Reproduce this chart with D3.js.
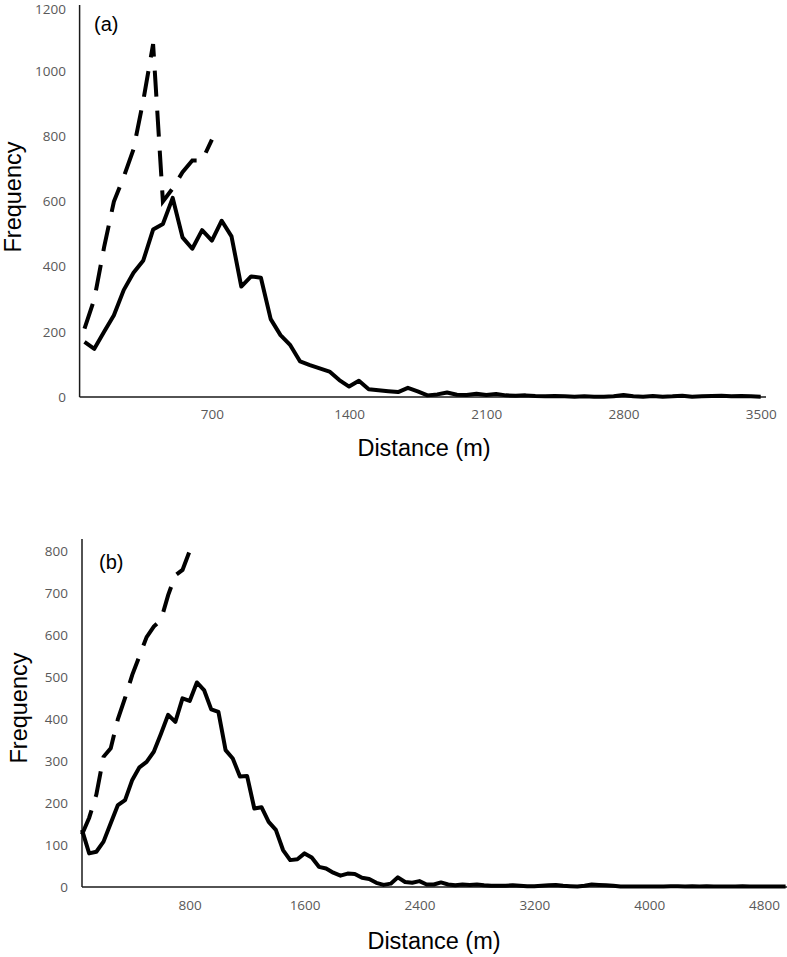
<!DOCTYPE html>
<html>
<head>
<meta charset="utf-8">
<script src="https://cdn.jsdelivr.net/npm/d3@7"></script>
<style>
  body { margin: 0; background: #fff; }
  svg { display: block; }
</style>
</head>
<body>
<div id="chart"></div>
<script>
// panel (a): 50 m bins, 50..3500
var binsA = d3.range(50, 3501, 50);
var solidA = [169, 148, 200, 251, 328, 381, 419, 514, 531, 611,
  490, 455, 512, 480, 541, 493, 339, 370, 366, 239,
  190, 159, 109, 98, 88, 78, 52, 32, 50, 24,
  21, 18, 15, 28, 17, 5, 8, 14, 7, 6,
  10, 6, 9, 5, 4, 5, 3, 2, 3, 2,
  1, 2, 1, 1, 2, 6, 2, 1, 3, 1,
  2, 4, 1, 2, 3, 4, 2, 3, 2, 1];
var dashedA = [210, 300, 460, 600, 675, 760, 910, 1083, 600, 640, 690, 726, 726, 790];
var xTicksA = [700, 1400, 2100, 2800, 3500];
var yTicksA = [0, 200, 400, 600, 800, 1000, 1200];

// panel (b): 50 m bins, 50..4950
var binsB = d3.range(50, 4951, 50);
var solidB = [136, 80, 84, 108, 152, 195, 207, 255, 285, 298,
  322, 365, 410, 393, 449, 443, 487, 469, 423, 417,
  326, 306, 263, 264, 187, 190, 155, 136, 88, 64,
  66, 80, 70, 48, 44, 34, 27, 32, 31, 22,
  19, 10, 5, 8, 23, 12, 10, 14, 6, 6,
  11, 6, 4, 6, 5, 6, 4, 3, 3, 3,
  4, 3, 2, 2, 3, 4, 5, 3, 2, 1,
  3, 6, 5, 4, 3, 1, 1, 1, 1, 1,
  1, 1, 2, 2, 1, 2, 1, 2, 1, 1,
  1, 1, 2, 1, 1, 1, 1, 1, 1];
var dashedB = [125, 165, 220, 310, 330, 400, 450, 505, 550, 595, 620, 636, 695, 742, 755, 800];
var xTicksB = [800, 1600, 2400, 3200, 4000, 4800];
var yTicksB = [0, 100, 200, 300, 400, 500, 600, 700, 800];

var width = 787,
  height = 957;

var svg = d3.select('#chart').append('svg')
  .attr('width', width)
  .attr('height', height);

function drawPanel(opts){
  var x = opts.x, y = opts.y;
  var g = svg.append('g');

  // tick labels only, Excel style
  var yAxis = d3.axisLeft(y).tickValues(opts.yTicks).tickSize(0).tickPadding(0)
    .tickFormat(d3.format('d'));
  var yG = g.append('g')
    .attr('transform', 'translate(' + opts.yLabelX + ',0)')
    .call(yAxis)
    .call(function(s){ s.select('.domain').remove(); });

  var xAxis = d3.axisBottom(x).tickValues(opts.xTicks).tickSize(0).tickPadding(0)
    .tickFormat(d3.format('d'));
  g.append('g')
    .attr('transform', 'translate(0,' + opts.xLabelY + ')')
    .call(xAxis)
    .call(function(s){ s.select('.domain').remove(); });

  g.selectAll('.tick text')
    .attr('fill', '#595959')
    .style('font-family', '"Open Sans", sans-serif')
    .style('font-size', '13.5px');

  // keep the top y label inside the page
  yG.selectAll('.tick text').filter(function(d){ return y(d) < 10; })
    .attr('dy', '0.55em');

  // axis lines
  g.append('line')
    .attr('x1', x.range()[0]).attr('x2', x.range()[0])
    .attr('y1', opts.axisTop).attr('y2', y(0))
    .attr('stroke', '#1a1a1a').attr('stroke-width', 1.5);
  g.append('line')
    .attr('x1', x.range()[0]).attr('x2', opts.axisRight)
    .attr('y1', y(0)).attr('y2', y(0))
    .attr('stroke', '#1a1a1a').attr('stroke-width', 1.5);

  var line = d3.line()
    .x(function(d){ return x(d[0]); })
    .y(function(d){ return y(d[1]); });

  g.append('path')
    .datum(d3.zip(opts.bins, opts.solid))
    .attr('d', line)
    .attr('fill', 'none')
    .attr('stroke', '#000')
    .attr('stroke-width', 4)
    .attr('stroke-linejoin', 'round');

  g.append('path')
    .datum(d3.zip(opts.bins.slice(0, opts.dashed.length), opts.dashed))
    .attr('d', line)
    .attr('fill', 'none')
    .attr('stroke', '#000')
    .attr('stroke-width', 4)
    .attr('stroke-dasharray', '26,14')
    .attr('stroke-linejoin', 'miter');

  // titles
  g.append('text')
    .attr('x', opts.xTitle[0]).attr('y', opts.xTitle[1])
    .attr('text-anchor', 'middle')
    .style('font-family', '"Liberation Sans", Arial, sans-serif')
    .style('font-size', '23.5px')
    .text('Distance (m)');
  g.append('text')
    .attr('transform', 'translate(' + opts.yTitle[0] + ',' + opts.yTitle[1] + ') rotate(-90)')
    .attr('text-anchor', 'middle')
    .style('font-family', '"Liberation Sans", Arial, sans-serif')
    .style('font-size', '23.5px')
    .text('Frequency');
  g.append('text')
    .attr('x', opts.tag[0]).attr('y', opts.tag[1])
    .style('font-family', '"Liberation Sans", Arial, sans-serif')
    .style('font-size', '20px')
    .text(opts.label);
}

drawPanel({
  x: d3.scaleLinear().domain([25, 3525]).range([79.6, 765.6]),
  y: d3.scaleLinear().domain([0, 1200]).range([397, 6]),
  bins: binsA, solid: solidA, dashed: dashedA,
  xTicks: xTicksA, yTicks: yTicksA,
  yLabelX: 66, xLabelY: 409, axisTop: 5, axisRight: 766,
  xTitle: [424, 456], yTitle: [21, 197], tag: [94, 31], label: '(a)'
});

drawPanel({
  x: d3.scaleLinear().domain([50, 4950]).range([82, 785.6]),
  y: d3.scaleLinear().domain([0, 800]).range([887, 551]),
  bins: binsB, solid: solidB, dashed: dashedB,
  xTicks: xTicksB, yTicks: yTicksB,
  yLabelX: 68, xLabelY: 900, axisTop: 539, axisRight: 787,
  xTitle: [434, 949], yTitle: [27, 708], tag: [99, 569], label: '(b)'
});
</script>
</body>
</html>
